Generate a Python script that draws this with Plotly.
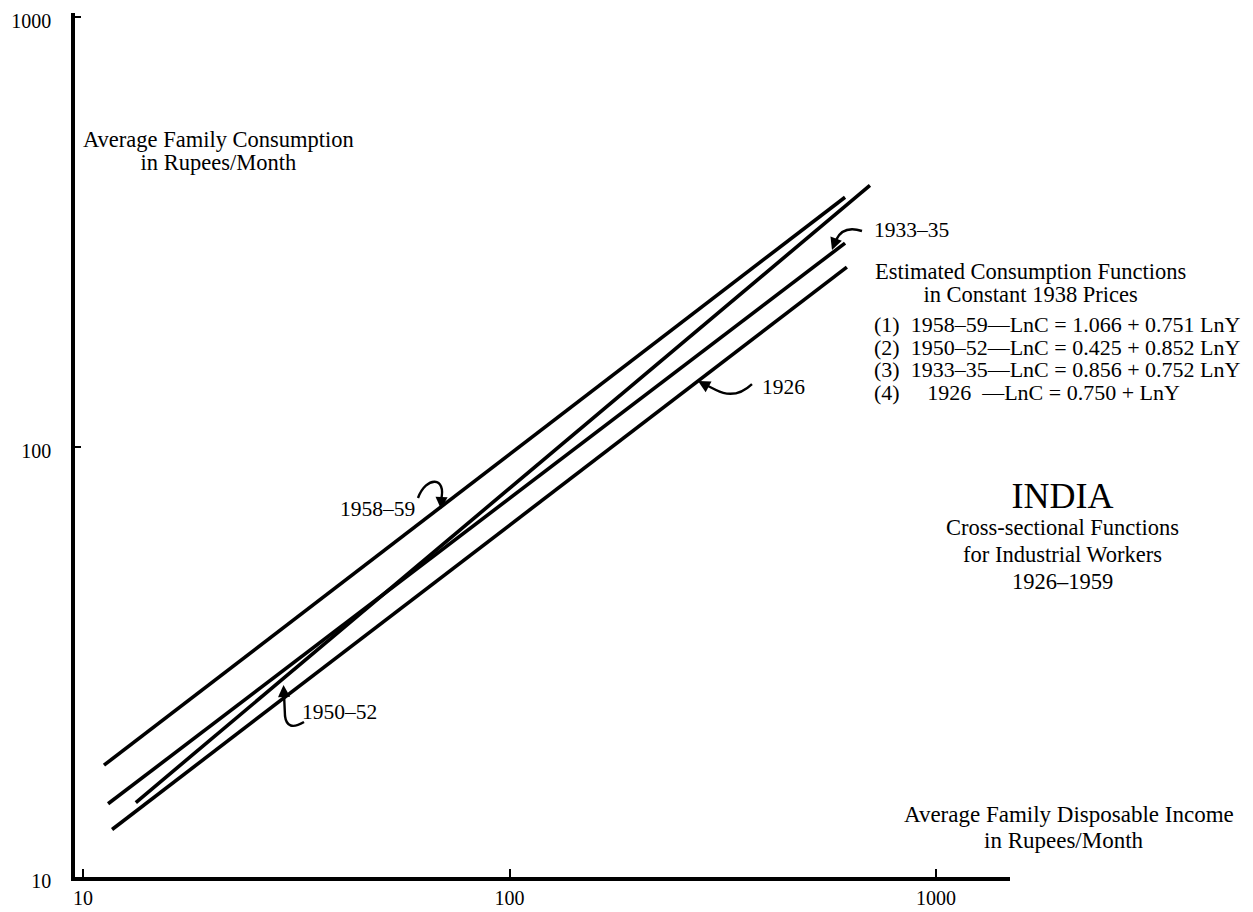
import plotly.graph_objects as go

# ---- data (log-log) ----
periods = ["1958–59", "1950–52", "1933–35", "1926"]
income_start = [11.2, 13.3, 11.45, 11.7]
income_end = [612, 700, 612, 618]
consumption_start = [18.2, 14.9, 14.8, 12.9]
consumption_end = [381, 406, 298, 262]

tick_values = [10, 100, 1000]
tick_labels = ["10", "100", "1000"]

equations = [
    "(1)\u00a0 1958–59—LnC = 1.066 + 0.751 LnY",
    "(2)\u00a0 1950–52—LnC = 0.425 + 0.852 LnY",
    "(3)\u00a0 1933–35—LnC = 0.856 + 0.752 LnY",
    "(4)\u00a0\u00a0\u00a0\u00a0 1926\u00a0\u00a0—LnC = 0.750 + LnY",
]

# ---- layout geometry (page pixels) ----
PAGE_W, PAGE_H = 1253, 912
OFF = 8  # default body margin of the html page
W, H = PAGE_W - OFF, PAGE_H - OFF
L, R, T, B = 75, 1010, 13, 877
PW, PH = R - L, B - T
FONT = "Liberation Serif, Times New Roman, serif"
BODY = 22.5


def px(x):
    return (x - L) / PW


def py(y):
    return (B - y) / PH


fig = go.Figure()
for i, p in enumerate(periods):
    fig.add_trace(go.Scatter(
        x=[income_start[i], income_end[i]],
        y=[consumption_start[i], consumption_end[i]],
        mode="lines", name=p,
        line=dict(color="black", width=3.6),
        showlegend=False, hoverinfo="skip"))

annotations = []


def text(x, y, s, size=BODY, xanchor="left", align="left"):
    annotations.append(dict(
        x=px(x), y=py(y), xref="paper", yref="paper", text=s,
        showarrow=False, xanchor=xanchor, yanchor="middle", align=align,
        font=dict(family=FONT, size=size, color="black")))


def block(x, y, lines, size, spacing, xanchor="left", align="left", sizes=None):
    """Multi-line text with custom line spacing: base font sets the leading."""
    base = spacing / 1.3
    parts = []
    for k, ln in enumerate(lines):
        s = sizes[k] if sizes else size
        parts.append(f"<span style='font-size:{s}px'>{ln}</span>")
    annotations.append(dict(
        x=px(x), y=py(y), xref="paper", yref="paper", text="<br>".join(parts),
        showarrow=False, xanchor=xanchor, yanchor="top", align=align,
        font=dict(family=FONT, size=base, color="black")))


def head(tipx, tipy, tailx, taily):
    annotations.append(dict(
        x=px(tipx), y=py(tipy), xref="paper", yref="paper", text="",
        showarrow=True, ax=tailx - tipx, ay=taily - tipy,
        axref="pixel", ayref="pixel",
        arrowhead=2, arrowsize=1.1, arrowwidth=2.2, arrowcolor="black"))


# axis titles
block(218, 125, ["Average Family Consumption", "in Rupees/Month"], BODY, 23,
      xanchor="center", align="center")
text(902, 814, "Average Family Disposable Income", size=23)
text(982, 840, "in Rupees/Month", size=23)

# series labels
text(417, 509, "1958–59", size=21.5, xanchor="right")
text(300, 712, "1950–52", size=21.5)
text(872, 230, "1933–35", size=21.5)
text(760, 387, "1926", size=21.5)

# legend block
block(1030, 257, ["Estimated Consumption Functions", "in Constant 1938 Prices"],
      BODY, 23, xanchor="center", align="center")
block(872, 310, equations, 22, 22.5)

block(1062, 474, ["INDIA", "Cross-sectional Functions", "for Industrial Workers",
                  "1926–1959"], BODY, 27, xanchor="center", align="center",
      sizes=[36, BODY, BODY, BODY])

# curved pointer hooks
shapes = []


def curve(d):
    shapes.append(dict(type="path", xref="paper", yref="paper", path=d,
                       line=dict(color="black", width=2.4)))


def P(x, y):
    return f"{px(x):.5f},{py(y):.5f}"


curve(f"M {P(418,498)} C {P(426,476)} {P(447,476)} {P(441,500)}")
head(441, 509, 441.5, 498)

curve(f"M {P(284,694)} L {P(285,716)} Q {P(287,732)} {P(304,722)}")
head(283.5, 685, 284, 696)

curve(f"M {P(752,384)} Q {P(735,400)} {P(716,390)} L {P(706,385)}")
head(698, 381, 707, 386)

curve(f"M {P(862,231)} Q {P(843,225)} {P(836,240)}")
head(832, 250, 836, 239)

fig.update_layout(
    width=W, height=H,
    margin=dict(l=L - OFF, r=PAGE_W - R, t=T - OFF, b=PAGE_H - B, pad=0,
                autoexpand=False),
    paper_bgcolor="white", plot_bgcolor="white",
    annotations=annotations, shapes=shapes,
    xaxis=dict(type="log", range=[0.98124, 3.1735], showgrid=False,
               automargin=False, ticklabeloverflow="allow",
               zeroline=False, showline=True, linecolor="black",
               linewidth=3.5, ticks="inside", ticklen=8, tickwidth=2,
               tickcolor="black", tickvals=tick_values, ticktext=tick_labels,
               ticklabelstandoff=0,
               tickfont=dict(family=FONT, size=20, color="black")),
    yaxis=dict(type="log", range=[1, 3.0093], showgrid=False,
               automargin=False, ticklabeloverflow="allow",
               zeroline=False, showline=True, linecolor="black",
               linewidth=3.5, ticks="inside", ticklen=6, tickwidth=2,
               tickcolor="black", tickvals=tick_values, ticktext=tick_labels,
               ticklabelstandoff=16, ticklabelshift=4,
               tickfont=dict(family=FONT, size=20, color="black")),
)

fig.write_html("out.html")
